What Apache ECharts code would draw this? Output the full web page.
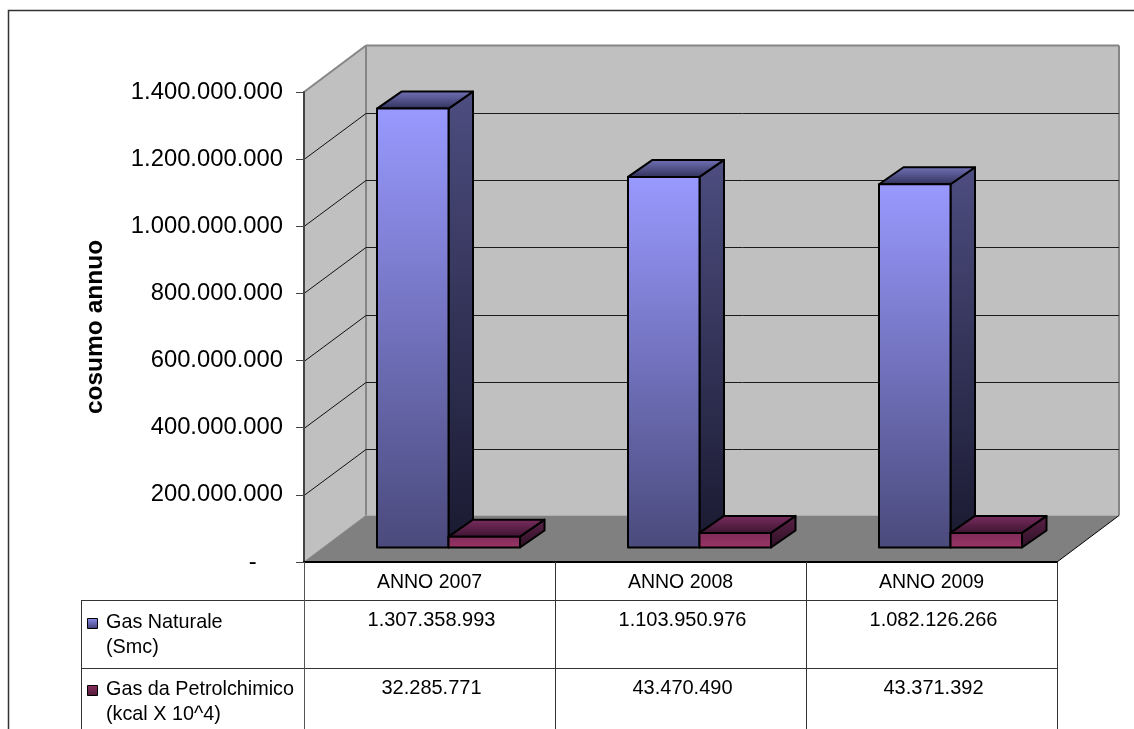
<!DOCTYPE html>
<html>
<head>
<meta charset="utf-8">
<title>Consumo annuo di gas</title>
<style>html,body{margin:0;padding:0;background:#fff}#chart{width:1134px;height:729px}</style>
<script src="https://cdn.jsdelivr.net/npm/echarts@6/dist/echarts.min.js"></script>
</head>
<body>
<div id="chart"></div>
<script>
// Annual consumption per year
const categories = ['ANNO 2007', 'ANNO 2008', 'ANNO 2009'];
const gasNaturale = [1307358993, 1103950976, 1082126266];
const gasPetrolchimico = [32285771, 43470490, 43371392];
const seriesNames = ['Gas Naturale\n(Smc)', 'Gas da Petrolchimico\n(kcal X 10^4)'];
const tickValues = [200000000, 400000000, 600000000, 800000000, 1000000000, 1200000000];
const axisMax = 1400000000;
const axisStep = 200000000;
const axisTitle = 'cosumo annuo';

// Oblique projection of the 3D box: how far the back plane sits from the front plane
const DEPTH = [62, -46.5];
const BAR_FRONT = [19, -14.5];    // front of the bars, measured from the floor's front edge
const BAR_DEPTH = [24.5, -17];    // depth of a single bar
const BAR_WIDTH = 71.5;

const GRID = { left: 304, top: 92, width: 753, height: 470 };
const ROW_LINES = [600, 668];
const TABLE_LEFT = 81;
const PAGE_BOTTOM = 729;

const withDots = v => String(v).replace(/\B(?=(\d{3})+$)/g, '.');
const vGrad = (a, b) => new echarts.graphic.LinearGradient(0, 0, 0, 1, [
  { offset: 0, color: a }, { offset: 1, color: b }
]);
const shift = (p, d, k = 1) => [p[0] + d[0] * k, p[1] + d[1] * k];
const poly = (points, style, z2) => ({ type: 'polygon', shape: { points }, style, z2 });
const line = (a, b, stroke, lineWidth) => ({
  type: 'line',
  shape: { x1: a[0], y1: a[1], x2: b[0], y2: b[1] },
  style: { stroke, lineWidth, fill: null }
});

// Side wall, back wall and floor of the box
function renderWalls(params, api) {
  const n = categories.length;
  const fb = [api.coord([0, 0])[0] - api.size([1, 0])[0] / 2, api.coord([0, 0])[1]];
  const ft = [fb[0], api.coord([0, axisMax])[1]];
  const rb = [fb[0] + api.size([1, 0])[0] * n, fb[1]];
  const bb = shift(fb, DEPTH), bt = shift(ft, DEPTH), brb = shift(rb, DEPTH);
  const brt = [brb[0], bt[1]];
  const edge = '#868686';
  return {
    type: 'group',
    children: [
      poly([ft, bt, bb, fb], { fill: '#c0c0c0' }),
      poly([bt, brt, brb, bb], { fill: '#c0c0c0' }),
      poly([fb, bb, brb, rb], { fill: '#808080' }),
      line(ft, bt, edge, 2),
      line(bt, brt, edge, 2),
      line(bt, bb, edge, 2),
      line(brt, brb, edge, 2),
      line(fb, bb, edge, 1),
      line(rb, brb, '#000', 1)
    ]
  };
}

// Gridline wrapping around the side wall and the back wall
function renderGridline(params, api) {
  const yc = Math.round(api.coord([0, api.value(1)])[1]) + 0.5;
  const fb = [api.coord([0, 0])[0] - api.size([1, 0])[0] / 2, yc];
  const back = shift(fb, DEPTH);
  back[1] = Math.round(back[1]) + 0.5;
  const right = [back[0] + api.size([1, 0])[0] * categories.length, back[1]];
  return {
    type: 'group',
    children: [line(fb, back, '#111', 1), line(back, right, '#1c1c1c', 1)]
  };
}

// One oblique box; colours come in [front, side, top] gradient pairs
function boxRenderer(leftOffset, colors) {
  return function (params, api) {
    const i = api.value(0);
    const base = api.coord([i, 0]);
    const top = api.coord([i, api.value(1)]);
    const x0 = base[0] + leftOffset + BAR_FRONT[0];
    const x1 = x0 + BAR_WIDTH;
    const yb = base[1] + BAR_FRONT[1];
    const yt = top[1] + BAR_FRONT[1];
    const a = [x0, yt], b = [x1, yt], c = [x1, yb], d = [x0, yb];
    const at = shift(a, BAR_DEPTH), bt = shift(b, BAR_DEPTH), ct = shift(c, BAR_DEPTH);
    const stroke = { stroke: '#000', lineWidth: 2, lineJoin: 'round' };
    return {
      type: 'group',
      children: [
        poly([b, bt, ct, c], Object.assign({ fill: vGrad(colors[1][0], colors[1][1]) }, stroke)),
        poly([a, at, bt, b], Object.assign({ fill: vGrad(colors[2][0], colors[2][1]) }, stroke)),
        poly([a, b, c, d], Object.assign({ fill: vGrad(colors[0][0], colors[0][1]) }, stroke))
      ]
    };
  };
}

// Data table under the plot: one column per category
function renderTableColumn(params, api) {
  const i = api.value(0);
  const cx = api.coord([i, 0])[0] + 2;
  const rows = [gasNaturale[i], gasPetrolchimico[i]];
  return {
    type: 'group',
    children: rows.map((v, r) => ({
      type: 'text',
      style: {
        text: withDots(v), x: cx, y: ROW_LINES[r] + 20.5,
        fill: '#000', font: '20px "Liberation Sans", Arial, sans-serif',
        textAlign: 'center', textVerticalAlign: 'middle'
      }
    }))
  };
}

const gasColors = [['#9999ff', '#4a4a7c'], ['#4d4d80', '#191930'], ['#7474bb', '#2f2f58']];
const petroColors = [['#7c2b59', '#9c3566'], ['#5c2148', '#2d1024'], ['#7c2d60', '#3b1430']];
const legendKeys = [['#8f8ff0', '#3e3e70'], ['#8d3060', '#4d1a38']];

const chart = echarts.init(document.getElementById('chart'), null, { renderer: 'canvas' });
const font = '"Liberation Sans", Arial, sans-serif';

// Row headers, table rules and outer frame
const graphics = [];
const vLine = (x, y1, y2, stroke) => graphics.push({
  type: 'line', silent: true, z: 20,
  shape: { x1: x + 0.5, y1, x2: x + 0.5, y2 },
  style: { stroke: stroke || '#333', lineWidth: 1 }
});
const hLine = (y, x1, x2, stroke) => graphics.push({
  type: 'line', silent: true, z: 20,
  shape: { x1, y1: y + 0.5, x2, y2: y + 0.5 },
  style: { stroke: stroke || '#333', lineWidth: 1 }
});
ROW_LINES.forEach(y => hLine(y, TABLE_LEFT, GRID.left + GRID.width));
vLine(TABLE_LEFT, ROW_LINES[0], PAGE_BOTTOM);
categories.forEach((c, i) => vLine(GRID.left + GRID.width * (i + 1) / categories.length, GRID.top + GRID.height, PAGE_BOTTOM));
vLine(GRID.left, GRID.top + GRID.height, PAGE_BOTTOM, '#555');
seriesNames.forEach((name, r) => {
  graphics.push({
    type: 'rect', z: 20, silent: true,
    shape: { x: 87.5, y: ROW_LINES[0] + 18.5 + r * 67, width: 10, height: 10 },
    style: { fill: vGrad(legendKeys[r][0], legendKeys[r][1]), stroke: '#000', lineWidth: 1 }
  });
  graphics.push({
    type: 'text', z: 20, silent: true,
    style: {
      text: name, x: 106, y: ROW_LINES[0] + 10 + r * 67,
      fill: '#000', font: '19.8px ' + font, lineHeight: 25, textVerticalAlign: 'top'
    }
  });
});
graphics.push({
  type: 'polyline', z: 20, silent: true,
  shape: { points: [[8.5, PAGE_BOTTOM], [8.5, 10.5], [1134, 10.5]] },
  style: { stroke: '#333', lineWidth: 1.5, fill: null }
});

chart.setOption({
  animation: false,
  backgroundColor: '#fff',
  grid: Object.assign({ containLabel: false }, GRID),
  xAxis: {
    type: 'category',
    data: categories,
    z: 10,
    axisLine: { onZero: false, lineStyle: { color: '#000', width: 2 } },
    axisTick: { show: false },
    axisLabel: { color: '#000', fontFamily: font, fontSize: 19.5, margin: 11 },
    splitLine: { show: false }
  },
  yAxis: {
    type: 'value',
    min: 0,
    max: axisMax,
    interval: axisStep,
    z: 10,
    name: axisTitle,
    nameLocation: 'middle',
    nameRotate: 90,
    nameGap: 196,
    nameTextStyle: { color: '#000', fontFamily: font, fontWeight: 'bold', fontSize: 24.5 },
    axisLine: { show: true, lineStyle: { color: '#444', width: 2 } },
    axisTick: { show: true, length: 8, lineStyle: { color: '#444', width: 1 } },
    axisLabel: {
      color: '#000', fontFamily: font, fontSize: 23.8, margin: 21, padding: [5, 0, 0, 0],
      formatter: v => (v === 0 ? '-    ' : withDots(v))
    },
    splitLine: { show: false }
  },
  graphic: graphics,
  series: [
    { type: 'custom', name: 'walls', silent: true, z: 1, data: [[0, axisMax]], renderItem: renderWalls },
    { type: 'custom', name: 'griglia', silent: true, z: 2, data: tickValues.map(v => [0, v]), renderItem: renderGridline },
    {
      type: 'custom', name: 'Gas Naturale', silent: true, z: 3,
      data: gasNaturale.map((v, i) => [i, v]),
      renderItem: boxRenderer(-BAR_WIDTH, gasColors)
    },
    {
      type: 'custom', name: 'Gas da Petrolchimico', silent: true, z: 4,
      data: gasPetrolchimico.map((v, i) => [i, v]),
      renderItem: boxRenderer(0, petroColors)
    },
    {
      type: 'custom', name: 'tabella', silent: true, z: 5,
      data: categories.map((c, i) => [i, 0]),
      renderItem: renderTableColumn
    }
  ]
});
</script>
</body>
</html>
